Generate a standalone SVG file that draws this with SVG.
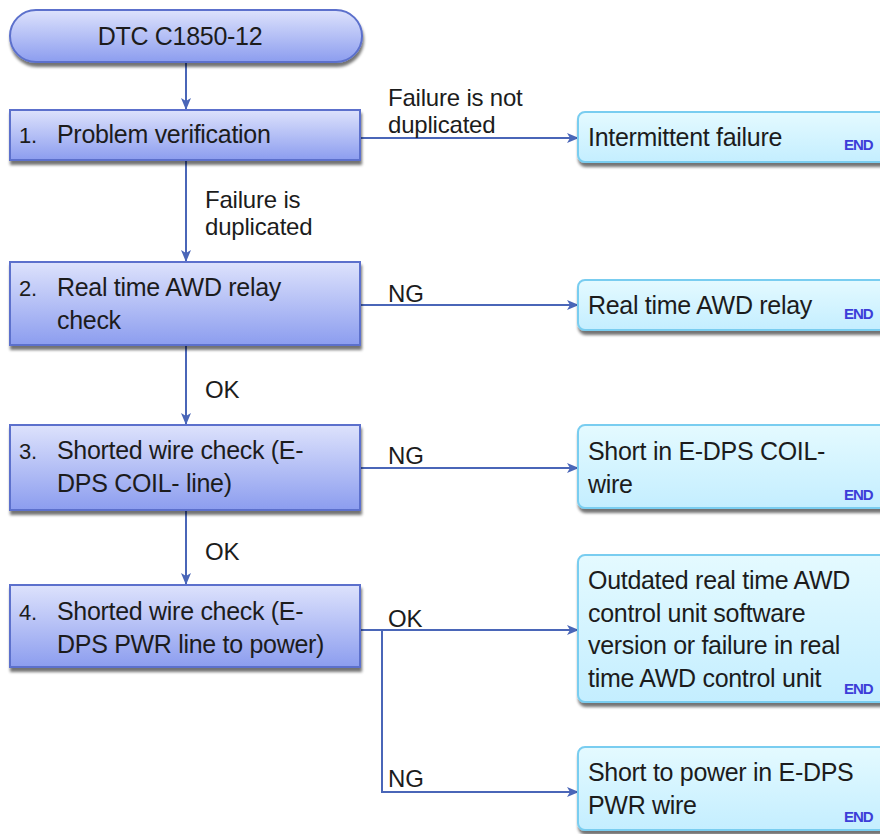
<svg xmlns="http://www.w3.org/2000/svg" width="880" height="834" viewBox="0 0 880 834">
<defs>
<linearGradient id="gL" x1="0" y1="0" x2="0" y2="1">
<stop offset="0" stop-color="#dde2fc"/>
<stop offset="1" stop-color="#8c9def"/>
</linearGradient>
<linearGradient id="gR" x1="0" y1="0" x2="0" y2="1">
<stop offset="0" stop-color="#e4faff"/>
<stop offset="1" stop-color="#c4eeff"/>
</linearGradient>
<filter id="sh" x="-5%" y="-10%" width="110%" height="130%">
<feGaussianBlur in="SourceAlpha" stdDeviation="1.5"/>
<feOffset dx="1" dy="4" result="b"/>
<feComponentTransfer><feFuncA type="linear" slope="0.55"/></feComponentTransfer>
<feMerge><feMergeNode/><feMergeNode in="SourceGraphic"/></feMerge>
</filter>
<marker id="arr" viewBox="0 0 12 12" refX="11" refY="6" markerWidth="12" markerHeight="12" markerUnits="userSpaceOnUse" orient="auto">
<path d="M0,1 L12,6 L0,11 L3,6 Z" fill="#4a66b8"/>
</marker>
</defs>
<style>
.lb{fill:url(#gL);stroke:#5b70cc;stroke-width:2;filter:url(#sh)}
.rb{fill:url(#gR);stroke:#79cdf0;stroke-width:2;filter:url(#sh)}
.t{font-family:"Liberation Sans",Arial,sans-serif;font-size:25px;fill:#1c1c1c;letter-spacing:-0.3px}
.c{font-family:"Liberation Sans",Arial,sans-serif;font-size:24px;fill:#1c1c1c;letter-spacing:-0.2px}
.e{font-family:"Liberation Sans",Arial,sans-serif;font-size:15px;font-weight:bold;fill:#3d3dd8;letter-spacing:-1px}
.ln{fill:none;stroke:#4a66b8;stroke-width:2}
</style>
<rect width="880" height="834" fill="#fff"/>
<g id="connectors">
<path class="ln" d="M186,62 V109" marker-end="url(#arr)"/>
<path class="ln" d="M360,138 H578" marker-end="url(#arr)"/>
<path class="ln" d="M186,160 V261" marker-end="url(#arr)"/>
<path class="ln" d="M360,305 H578" marker-end="url(#arr)"/>
<path class="ln" d="M186,345 V424" marker-end="url(#arr)"/>
<path class="ln" d="M360,468 H578" marker-end="url(#arr)"/>
<path class="ln" d="M186,510 V584" marker-end="url(#arr)"/>
<path class="ln" d="M360,630 H578" marker-end="url(#arr)"/>
<path class="ln" d="M382,630 V792 H578" marker-end="url(#arr)"/>
<text class="c" x="388" y="106">Failure is not</text>
<text class="c" x="388" y="133">duplicated</text>
<text class="c" x="205" y="208">Failure is</text>
<text class="c" x="205" y="235">duplicated</text>
<text class="c" x="388" y="302">NG</text>
<text class="c" x="205" y="398">OK</text>
<text class="c" x="388" y="464">NG</text>
<text class="c" x="205" y="560">OK</text>
<text class="c" x="388" y="627">OK</text>
<text class="c" x="388" y="787">NG</text>
</g>
<g id="start">
<rect class="lb" x="10" y="10" width="352" height="52" rx="26"/>
<text class="t" x="180" y="45" text-anchor="middle">DTC C1850-12</text>
</g>
<g id="step1">
<rect class="lb" x="10" y="110" width="350" height="50"/>
<text class="t" x="19" y="143" style="font-size:22px">1.</text>
<text class="t" x="57" y="143">Problem verification</text>
</g>
<g id="step2">
<rect class="lb" x="10" y="262" width="350" height="83"/>
<text class="t" x="19" y="296" style="font-size:22px">2.</text>
<text class="t" x="57" y="296">Real time AWD relay</text>
<text class="t" x="57" y="329">check</text>
</g>
<g id="step3">
<rect class="lb" x="10" y="425" width="350" height="85"/>
<text class="t" x="19" y="459" style="font-size:22px">3.</text>
<text class="t" x="57" y="459">Shorted wire check (E-</text>
<text class="t" x="57" y="492">DPS COIL- line)</text>
</g>
<g id="step4">
<rect class="lb" x="10" y="585" width="350" height="82"/>
<text class="t" x="19" y="620" style="font-size:22px">4.</text>
<text class="t" x="57" y="620">Shorted wire check (E-</text>
<text class="t" x="57" y="653">DPS PWR line to power)</text>
</g>
<g id="end1">
<rect class="rb" x="578" y="112" width="320" height="50" rx="7"/>
<text class="t" x="588" y="146">Intermittent failure</text>
<text class="e" x="844" y="150">END</text>
</g>
<g id="end2">
<rect class="rb" x="578" y="280" width="320" height="50" rx="7"/>
<text class="t" x="588" y="314">Real time AWD relay</text>
<text class="e" x="844" y="319">END</text>
</g>
<g id="end3">
<rect class="rb" x="578" y="425" width="320" height="83" rx="7"/>
<text class="t" x="588" y="460">Short in E-DPS COIL-</text>
<text class="t" x="588" y="493">wire</text>
<text class="e" x="844" y="500">END</text>
</g>
<g id="end4">
<rect class="rb" x="578" y="555" width="320" height="147" rx="7"/>
<text class="t" x="588" y="589">Outdated real time AWD</text>
<text class="t" x="588" y="622">control unit software</text>
<text class="t" x="588" y="654">version or failure in real</text>
<text class="t" x="588" y="687">time AWD control unit</text>
<text class="e" x="844" y="694">END</text>
</g>
<g id="end5">
<rect class="rb" x="578" y="747" width="320" height="83" rx="7"/>
<text class="t" x="588" y="781">Short to power in E-DPS</text>
<text class="t" x="588" y="814">PWR wire</text>
<text class="e" x="844" y="822">END</text>
</g>
</svg>
